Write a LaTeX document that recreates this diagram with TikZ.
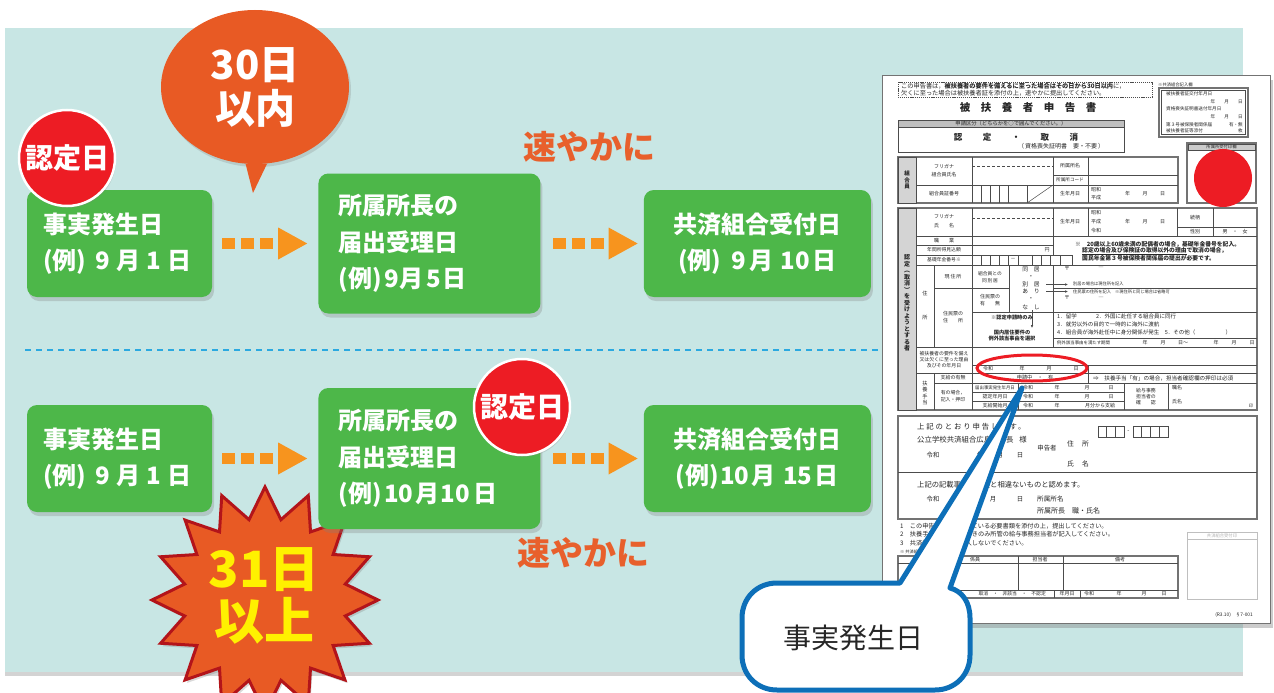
\documentclass[tikz,border=0pt]{standalone}
\usepackage{fontspec}
\setmainfont{Noto Sans CJK JP}
\usetikzlibrary{arrows.meta,positioning,calc,shapes.geometric,shadows}
\definecolor{tealbg}{HTML}{C8E6E4}
\definecolor{boxgreen}{HTML}{4DB749}
\definecolor{stampred}{HTML}{ED1C24}
\definecolor{burnt}{HTML}{E85A24}
\definecolor{arroworange}{HTML}{F7941E}
\definecolor{quickorange}{HTML}{E8602C}
\definecolor{starrim}{HTML}{B3141A}
\definecolor{yellowtxt}{HTML}{FFF100}
\definecolor{dashblue}{HTML}{2BA9E0}
\definecolor{callblue}{HTML}{0D6FB8}
\definecolor{formgray}{HTML}{D4D4D4}

\newcommand\dotarrow[1]{%
  \foreach \k in {0,1,2}
    \fill[arroworange] ($(#1)+(\k*19,-5.5)$) rectangle ++(13,11);
  \fill[arroworange] ($(#1)+(56,-16)$) -- ++(0,32) -- ++(29,-16) -- cycle;}

\begin{document}
\begin{tikzpicture}[
  x=1pt, y=-1pt,
  gbox/.style={fill=boxgreen,rounded corners=10pt,text=white,inner ysep=0pt,font=\bfseries\fontsize{24}{36.5}\selectfont,
    drop shadow={shadow xshift=2pt,shadow yshift=-4pt,opacity=.3}},
  stamp/.style={circle,fill=stampred,draw=white,line width=2.5pt,minimum size=96pt,inner sep=0pt,text=white,
    font=\bfseries\fontsize{28}{28}\selectfont,drop shadow={shadow xshift=1pt,shadow yshift=-2pt,opacity=.25}},
  quick/.style={text=quickorange,inner sep=0pt,font=\bfseries\fontsize{33}{33}\selectfont},
  ft/.style={inner sep=0pt,align=center,text=black!85,font=\fontsize{5}{6}\selectfont},
  fl/.style={draw=black!70,line width=.5pt},
  fo/.style={draw=black!55,line width=1.4pt},
  fg/.style={fl,fill=formgray}
]
\useasboundingbox (0,0) rectangle (1274,693);
\path[fill=tealbg,drop shadow={shadow xshift=0pt,shadow yshift=-4pt,opacity=.35}] (5,28) rectangle (1243,672);
\draw[dashblue,line width=2.5pt,dash pattern=on 6pt off 5pt] (25,350) -- (882,350);

\node[star,star points=16,star point ratio=1.38,minimum size=226pt,inner sep=0pt,fill=burnt,draw=starrim,line width=3pt,
  drop shadow={shadow xshift=2pt,shadow yshift=-3pt,opacity=.3}] (burst) at (265,600) {};
\node[inner sep=0pt,align=center,text=yellowtxt,font=\bfseries\fontsize{50}{52}\selectfont] (bursttxt) at (264,596) {31日\\以上};

\node[gbox,minimum width=185pt,minimum height=107pt,text width=153pt,inner xsep=16pt,align=left] (a1) at (119.5,243.5) {事実発生日\\\mbox{(例)\kern.4em 9\kern.25em 月\kern.25em 1\kern.25em 日}};
\node[gbox,minimum height=140pt,text width=182pt,inner xsep=20pt,align=left,right=106pt of a1] (b1) {所属所長の\\届出受理日\\\mbox{(例)\kern.1em 9\kern.05em 月\kern.1em 5\kern.05em 日}};
\node[gbox,minimum height=107pt,text width=195pt,inner xsep=16pt,align=center,right=103pt of b1] (c1) {共済組合受付日\\\mbox{(例)\kern.4em 9\kern.15em 月\kern.3em 10\kern.1em 日}};

\node[gbox,minimum width=185pt,minimum height=107pt,text width=153pt,inner xsep=16pt,align=left] (a2) at (119.5,458.5) {事実発生日\\\mbox{(例)\kern.4em 9\kern.25em 月\kern.25em 1\kern.25em 日}};
\node[gbox,minimum height=141pt,text width=182pt,inner xsep=20pt,align=left,right=106pt of a2] (b2) {所属所長の\\届出受理日\\\mbox{(例)\kern.1em 10\kern.1em 月\kern.05em 10\kern.15em 日}};
\node[gbox,minimum height=107pt,text width=195pt,inner xsep=16pt,align=center,right=103pt of b2] (c2) {共済組合受付日\\\mbox{(例)\kern.05em 10\kern.1em 月\kern.3em 15\kern.1em 日}};

\coordinate (ar1) at ([xshift=10pt]a1.east); \dotarrow{ar1}
\coordinate (ar2) at ([xshift=12pt]b1.east); \dotarrow{ar2}
\coordinate (ar3) at ([xshift=10pt]a2.east); \dotarrow{ar3}
\coordinate (ar4) at ([xshift=12pt]b2.east); \dotarrow{ar4}

\node[stamp] (s1) at (67,158) {認定日};
\node[stamp] (s2) at (522,407) {認定日};

\node[ellipse,fill=burnt,minimum width=188pt,minimum height=154pt,inner sep=0pt,text=white,align=center,
  font=\bfseries\fontsize{40}{44}\selectfont,drop shadow={shadow xshift=2pt,shadow yshift=-3pt,opacity=.25}] (bub) at (255,87) {30日\\以内};
\coordinate (bubtip) at (253,193);
\fill[burnt] (bub.263) -- (bubtip) -- (bub.279) -- cycle;

\node[quick] (q1) at (589,147) {速やかに};
\node[quick] (q2) at (583,553) {速やかに};

% form
\path[fill=white,draw=black!55,line width=.8pt,drop shadow={shadow xshift=3pt,shadow yshift=-5pt,opacity=.4}] (882,75) rectangle (1270,623);
\draw[fl,dash pattern=on 1.2pt off .9pt] (898,82) rectangle (1152,97);
\node[ft,anchor=west,font=\fontsize{6.2}{7}\selectfont] (n1) at (901,86) {この申告書は，\textbf{被扶養者の要件を備えるに至った場合はその日から30日以内}に，};
\node[ft,anchor=west,font=\fontsize{6.2}{7}\selectfont] (n2) at (901,93.3) {欠くに至った場合は被扶養者証を添付の上，速やかに提出してください。};
\node[ft,font=\bfseries\fontsize{10.5}{11}\selectfont] (ttl) at (1028,108) {被　扶　養　者　申　告　書};

\draw[fl] (898,120) rectangle (1124,152);
\filldraw[fl,fill=black!25] (898,120) rectangle (1124,127);
\node[ft,font=\fontsize{5.3}{6}\selectfont] (k1) at (1011,123.6) {申請区分（どちらかを○で囲んでください。）};
\node[ft,font=\bfseries\fontsize{8.5}{9}\selectfont] (k2) at (1016,137) {認\hspace{2.4em}定\hspace{2.4em}・\hspace{2.4em}取\hspace{2.4em}消};
\node[ft,font=\fontsize{6}{6}\selectfont] (k3) at (1061,146) {（\,資格喪失証明書\quad 要・不要\,）};

\node[ft,anchor=west,font=\fontsize{4.3}{5}\selectfont] (j0) at (1158,84.5) {※共済組合記入欄};
\draw[fo] (1159,88) rectangle (1248,137);
\draw[fl] (1161.5,90.5) rectangle (1245.5,134.5);
\node[ft,anchor=west,font=\fontsize{4.6}{5}\selectfont] (j1) at (1166,94) {被扶養者証交付年月日};
\node[ft,anchor=east,font=\fontsize{4.6}{5}\selectfont] (j2) at (1243,101.5) {年\hspace{2em}月\hspace{2em}日};
\node[ft,anchor=west,font=\fontsize{4.6}{5}\selectfont] (j3) at (1166,109) {資格喪失証明書送付年月日};
\node[ft,anchor=east,font=\fontsize{4.6}{5}\selectfont] (j4) at (1243,117) {年\hspace{2em}月\hspace{2em}日};
\node[ft,anchor=west,font=\fontsize{4.6}{5}\selectfont] (j5) at (1166,124.5) {第３号被保険者関係届};
\node[ft,anchor=east,font=\fontsize{4.6}{5}\selectfont] (j6) at (1243,124.5) {有・無};
\node[ft,anchor=west,font=\fontsize{4.6}{5}\selectfont] (j7) at (1166,131) {被扶養者証等添付};
\node[ft,anchor=east,font=\fontsize{4.6}{5}\selectfont] (j8) at (1243,131) {枚};

\draw[fo] (1187,143) rectangle (1256,203);
\filldraw[fl,fill=black!20] (1188,144) rectangle (1255,150);
\node[ft,font=\fontsize{4.3}{5}\selectfont] (u1) at (1221.5,147) {所属所受付印欄};
\fill[stampred] (1223,178) circle (29);

\draw[fo] (898,157) rectangle (1178,203);
\filldraw[fg] (898,157) rectangle (916,203);
\node[ft,font=\bfseries\fontsize{5.5}{6.5}\selectfont] (m0) at (907,180) {組\\合\\員};
\draw[fl] (972,157) -- (972,203) (1053,157) -- (1053,203) (1088,157) -- (1088,203) (916,185) -- (1178,185) (1053,175) -- (1178,175);
\draw[fl,densely dashed] (972,166) -- (1053,166);
\foreach \x in {981,990,999,1008,1027} \draw[fl] (\x,185) -- (\x,203);
\draw[fl] (1027,203) -- (1053,185);
\node[ft] (m1) at (944,167) {フリガナ};
\node[ft] (m2) at (944,174.5) {組合員氏名};
\node[ft] (m3) at (944,194) {組合員証番号};
\node[ft] (m4) at (1070,166) {所属所名};
\node[ft,font=\fontsize{4.6}{5}\selectfont] (m5) at (1070,180) {所属所コード};
\node[ft] (m6) at (1070,194) {生年月日};
\node[ft] (m7) at (1096,190) {昭和};
\node[ft] (m8) at (1096,198) {平成};
\node[ft] (m9) at (1145,194) {年\hspace{2.5em}月\hspace{2.5em}日};

\draw[fo] (898,208) rectangle (1257,410);
\filldraw[fg] (898,208) rectangle (916,410);
\node[ft,font=\bfseries\fontsize{6}{6.5}\selectfont] (p0) at (907,303) {認\\定\\︵\\取\\消\\︶\\を\\受\\け\\よ\\う\\と\\す\\る\\者};
\draw[fl] (972,208) -- (972,410) (1053,208) -- (1053,255) (1088,208) -- (1088,236) (1177,208) -- (1177,236) (1213,208) -- (1213,236)
  (1177,227) -- (1257,227) (916,236) -- (1257,236) (916,245) -- (1053,245) (916,255) -- (1072,255) (1072,255) -- (1072,265) (916,265) -- (1257,265);
\draw[fl,densely dashed] (972,218) -- (1053,218);
\foreach \x in {981,990,999,1008,1018,1032,1041,1050,1060} \draw[fl] (\x,255) -- (\x,265);
\node[ft] (p1) at (944,217) {フリガナ};
\node[ft] (p2) at (944,226) {氏\hspace{2em}名};
\node[ft] (p3) at (1070,222) {生年月日};
\node[ft] (p4) at (1096,213) {昭和};
\node[ft] (p5) at (1096,222) {平成};
\node[ft] (p6) at (1096,231) {令和};
\node[ft] (p7) at (1145,222) {年\hspace{2.5em}月\hspace{2.5em}日};
\node[ft] (p8) at (1195,217.5) {続柄};
\node[ft] (p9) at (1195,231.5) {性別};
\node[ft] (p10) at (1235,231.5) {男\hspace{1em}・\hspace{1em}女};
\node[ft] (p11) at (944,240.5) {職\hspace{2em}業};
\node[ft,font=\fontsize{4.8}{5}\selectfont] (p12) at (944,250) {年間所得見込額};
\node[ft] (p13) at (1047,250) {円};
\node[ft,font=\fontsize{4.8}{5}\selectfont] (p14) at (944,260) {基礎年金番号※};
\node[ft] (p15) at (1013,259.5) {－};
\node[ft,anchor=west,font=\bfseries\fontsize{5.8}{6}\selectfont] (p16) at (1075,244.5) {※\quad 20歳以上60歳未満の配偶者の場合，基礎年金番号を記入。};
\node[ft,anchor=west,font=\bfseries\fontsize{5.8}{6}\selectfont] (p17) at (1082,251.5) {\underline{認定の場合及び保険証の取得以外の理由}で取消の場合，};
\node[ft,anchor=west,font=\bfseries\fontsize{5.8}{6}\selectfont] (p18) at (1082,258.5) {国民年金第３号被保険者関係届の提出が必要です。};

\draw[fl] (934,265) -- (934,347) (1009,265) -- (1009,312) (1053,265) -- (1053,347) (934,288) -- (1009,288) (1053,288) -- (1257,288)
  (972,312) -- (1257,312) (1053,338) -- (1257,338) (916,347) -- (1257,347);
\node[ft,font=\fontsize{5.2}{6}\selectfont] (h1) at (925,294) {住};
\node[ft,font=\fontsize{5.2}{6}\selectfont] (h2) at (925,318) {所};
\node[ft] (h3) at (953,277) {現\,住\,所};
\node[ft,font=\fontsize{5}{7}\selectfont] (h4) at (953,317) {住民票の\\住\hspace{2em}所};
\node[ft,font=\fontsize{4.8}{7}\selectfont] (h5) at (990,277) {組合員との\\同\,別\,居};
\node[ft,font=\fontsize{5}{7}\selectfont] (h6) at (990,300) {住民票の\\有\hspace{2em}無};
\foreach \y/\t [count=\i] in {269/同\hspace{1em}居,277/・,284.5/別\hspace{1em}居,291.5/あ\hspace{1em}り,299/・,307/な\hspace{1em}し}
  \node[ft,font=\fontsize{5.8}{6}\selectfont] (w\i) at (1031,\y) {\t};
\draw[fl,-{Latex[length=3pt,width=2.6pt]}] (1046,284.5) -- (1068,284.5);
\draw[fl,-{Latex[length=3pt,width=2.6pt]}] (1046,291.5) -- (1068,291.5);
\draw[fl,-{Latex[length=3pt,width=2.6pt]}] (1032,310) -- (1032,328);
\node[ft,anchor=west,font=\fontsize{4.2}{5}\selectfont] (h7) at (1073,284) {別居の場合は現住所を記入};
\node[ft,anchor=west,font=\fontsize{4.2}{5}\selectfont] (h8) at (1073,291.5) {住民票の住所を記入\quad ※現住所と同じ場合は省略可};
\node[ft,font=\fontsize{5.4}{6}\selectfont] (h9) at (1067,268.5) {〒};
\node[ft,font=\fontsize{5.4}{6}\selectfont] (h10) at (1101,268.5) {―};
\node[ft,font=\fontsize{5.4}{6}\selectfont] (h11) at (1067,298) {〒};
\node[ft,font=\fontsize{5.4}{6}\selectfont] (h12) at (1101,298) {―};
\node[ft,font=\bfseries\fontsize{5.2}{6}\selectfont] (h13) at (1012,318) {※認定申請時のみ};
\node[ft,font=\bfseries\fontsize{5.2}{6.5}\selectfont] (h14) at (1012,335.5) {国内居住要件の\\例外該当事由を選択};
\node[ft,anchor=west,font=\fontsize{5.5}{6}\selectfont] (h15) at (1057,316.5) {1．留学\hspace{3.5em}2．外国に赴任する組合員に同行};
\node[ft,anchor=west,font=\fontsize{5.5}{6}\selectfont] (h16) at (1057,324.5) {3．就労以外の目的で一時的に海外に渡航};
\node[ft,anchor=west,font=\fontsize{5.5}{6}\selectfont] (h17) at (1057,332.5) {4．組合員が海外赴任中に身分関係が発生\quad 5．その他（\hspace{5.5em}）};
\node[ft,anchor=west,font=\fontsize{4.4}{5}\selectfont] (h18) at (1057,342.5) {例外該当事由を満たす期間};
\foreach \x/\t [count=\i] in {1145/年,1163/月,1183/日～,1216/年,1234/月,1252/日}
  \node[ft] (e\i) at (\x,342.5) {\t};

\draw[fl] (972,365) -- (1257,365) (916,373) -- (1257,373) (1088,365) -- (1088,383);
\node[ft,font=\fontsize{4.9}{6}\selectfont] (r0) at (944,360) {被扶養者の要件を備え\\又は欠くに至った理由\\及びその年月日};
\foreach \x/\t [count=\i] in {988/令和,1022/年,1049/月,1076/日}
  \node[ft] (ry\i) at (\x,369) {\t};

\draw[fl] (934,373) -- (934,410) (934,383) -- (1257,383) (1018,383) -- (1018,410) (972,392) -- (1124,392) (972,401) -- (1124,401)
  (1124,383) -- (1124,410) (1168,383) -- (1168,410);
\node[ft,font=\fontsize{5.2}{6.5}\selectfont] (t0) at (925,393) {扶\\養\\手\\当};
\node[ft] (t1) at (953,378) {支給の有無};
\node[ft,font=\fontsize{5.2}{6}\selectfont] (t2) at (1035,378) {申請中\quad・\quad 有};
\node[ft,anchor=west,font=\fontsize{5.6}{6}\selectfont] (t3) at (1093,378) {⇒\quad 扶養手当「有」の場合，担当者確認欄の押印は必須};
\node[ft,font=\fontsize{4.9}{6.5}\selectfont] (t4) at (953,396) {有の場合，\\記入・押印};
\node[ft,font=\fontsize{4.4}{5}\selectfont] (t5) at (995,387.5) {届出事実発生年月日};
\node[ft] (t6) at (995,396.5) {認定年月日};
\node[ft] (t7) at (995,405.5) {支給開始月};
\foreach \y [count=\i] in {387.5,396.5}
  \foreach \x/\t [count=\j] in {1028/令和,1057/年,1087/月,1111/日}
    \node[ft] (g\i\j) at (\x,\y) {\t};
\node[ft] (g31) at (1028,405.5) {令和};
\node[ft] (g32) at (1057,405.5) {年};
\node[ft] (g33) at (1100,405.5) {月分から支給};
\node[ft,font=\fontsize{4.9}{6.3}\selectfont] (t8) at (1146,396.5) {給与事務\\担当者の\\確\hspace{2em}認};
\node[ft,anchor=west] (t9) at (1172,388) {職名};
\node[ft,anchor=west] (t10) at (1172,401.5) {氏名};
\node[ft,font=\fontsize{4.2}{5}\selectfont] (t11) at (1251,406) {印};

\draw[fo] (898,416) rectangle (1257,519);
\draw[fl] (898,472) -- (1257,472);
\node[ft,anchor=west,font=\addfontfeatures{LetterSpace=25}\fontsize{7.4}{8}\selectfont] (v1) at (917,427) {上記のとおり申告します。};
\node[ft,anchor=west,font=\fontsize{7.4}{8}\selectfont] (v2) at (917,440) {公立学校共済組合広島支部長\hspace{6pt}様};
\foreach \x/\t [count=\i] in {933/令和,980/年,1000/月,1020/日}
  \node[ft,font=\fontsize{6.4}{7}\selectfont] (va\i) at (\x,455) {\t};
\node[ft,font=\fontsize{6.4}{7}\selectfont] (v3) at (1047,448) {申告者};
\node[ft,font=\fontsize{6.8}{7}\selectfont] (v4) at (1078,444) {住\hspace{1.2em}所};
\node[ft,font=\fontsize{6.8}{7}\selectfont] (v5) at (1078,464) {氏\hspace{1.2em}名};
\foreach \x in {1098,1106.7,1115.4,1133,1141.7,1150.4,1159.1} \draw[fl,line width=.6pt] (\x,426) rectangle ++(8.7,11);
\node[ft,font=\fontsize{6}{6}\selectfont] (v6) at (1128.5,431.5) {-};
\node[ft,anchor=west,font=\fontsize{7.3}{8}\selectfont] (v7) at (917,485) {上記の記載事項は事実と相違ないものと認めます。};
\foreach \x/\t [count=\i] in {933/令和,965/年,993/月,1020/日}
  \node[ft,font=\fontsize{6.4}{7}\selectfont] (vb\i) at (\x,499) {\t};
\node[ft,anchor=west,font=\fontsize{6.6}{7}\selectfont] (v8) at (1037,499) {所属所名};
\node[ft,anchor=west,font=\fontsize{7}{8}\selectfont] (v9) at (1037,511) {所属所長\quad 職・氏名};

\node[ft,anchor=west,font=\fontsize{6.2}{7}\selectfont] (z1) at (900,526) {1\quad この申告書には記載している必要書類を添付の上，提出してください。};
\node[ft,anchor=west,font=\fontsize{6.2}{7}\selectfont] (z2) at (900,534.5) {2\quad 扶養手当を申告するときのみ所管の給与事務担当者が記入してください。};
\node[ft,anchor=west,font=\fontsize{6.2}{7}\selectfont] (z3) at (900,543) {3\quad 共済組合記入欄は記入しないでください。};
\node[ft,anchor=west,font=\fontsize{4.2}{5}\selectfont] (z4) at (900,551.5) {※\ 共済組合処理欄};

\draw[fo] (898,556) rectangle (1178,598);
\draw[fl] (898,563) -- (1178,563) (898,590) -- (1178,590) (1018,556) -- (1018,590) (1063,556) -- (1063,590) (1054,590) -- (1054,598) (1080,590) -- (1080,598);
\node[ft] (x1) at (975,559.5) {係員};
\node[ft] (x2) at (1040,559.5) {担当者};
\node[ft] (x3) at (1120,559.5) {備考};
\node[ft,anchor=east,font=\fontsize{4.8}{5}\selectfont] (x4) at (1046,594) {取消\quad・\quad 非該当\quad・\quad 不認定};
\node[ft] (x5) at (1067,594) {年月日};
\foreach \x/\t [count=\i] in {1089/令和,1119/年,1144/月,1164/日}
  \node[ft] (xd\i) at (\x,594) {\t};
\draw[draw=black!25,line width=.6pt] (1187,532) rectangle (1257,599) (1187,539) -- (1257,539);
\node[ft,text=black!30,font=\fontsize{4.3}{5}\selectfont] (x6) at (1222,535.5) {共済組合受付印};
\node[ft,anchor=east,font=\fontsize{4.8}{5}\selectfont] (x7) at (1253,615) {(R3.10)\quad §7-001};

\draw[stampred,line width=3pt] (1032,368) ellipse [x radius=55,y radius=13];

\coordinate (tip) at (1022,388);
\filldraw[fill=white,draw=callblue,line width=5pt,line join=round] (777,583) -- (900,583) -- (tip) -- (950,588)
  .. controls (962,591) and (970,602) .. (970,618) -- (970,655) .. controls (970,675) and (955,690) .. (935,690)
  -- (777,690) .. controls (757,690) and (742,675) .. (742,655) -- (742,618) .. controls (742,598) and (757,583) .. (777,583) -- cycle;
\node[inner sep=0pt,text=black!85,font=\fontsize{28}{28}\selectfont] (ctext) at (853,638) {事実発生日};
\end{tikzpicture}
\end{document}
